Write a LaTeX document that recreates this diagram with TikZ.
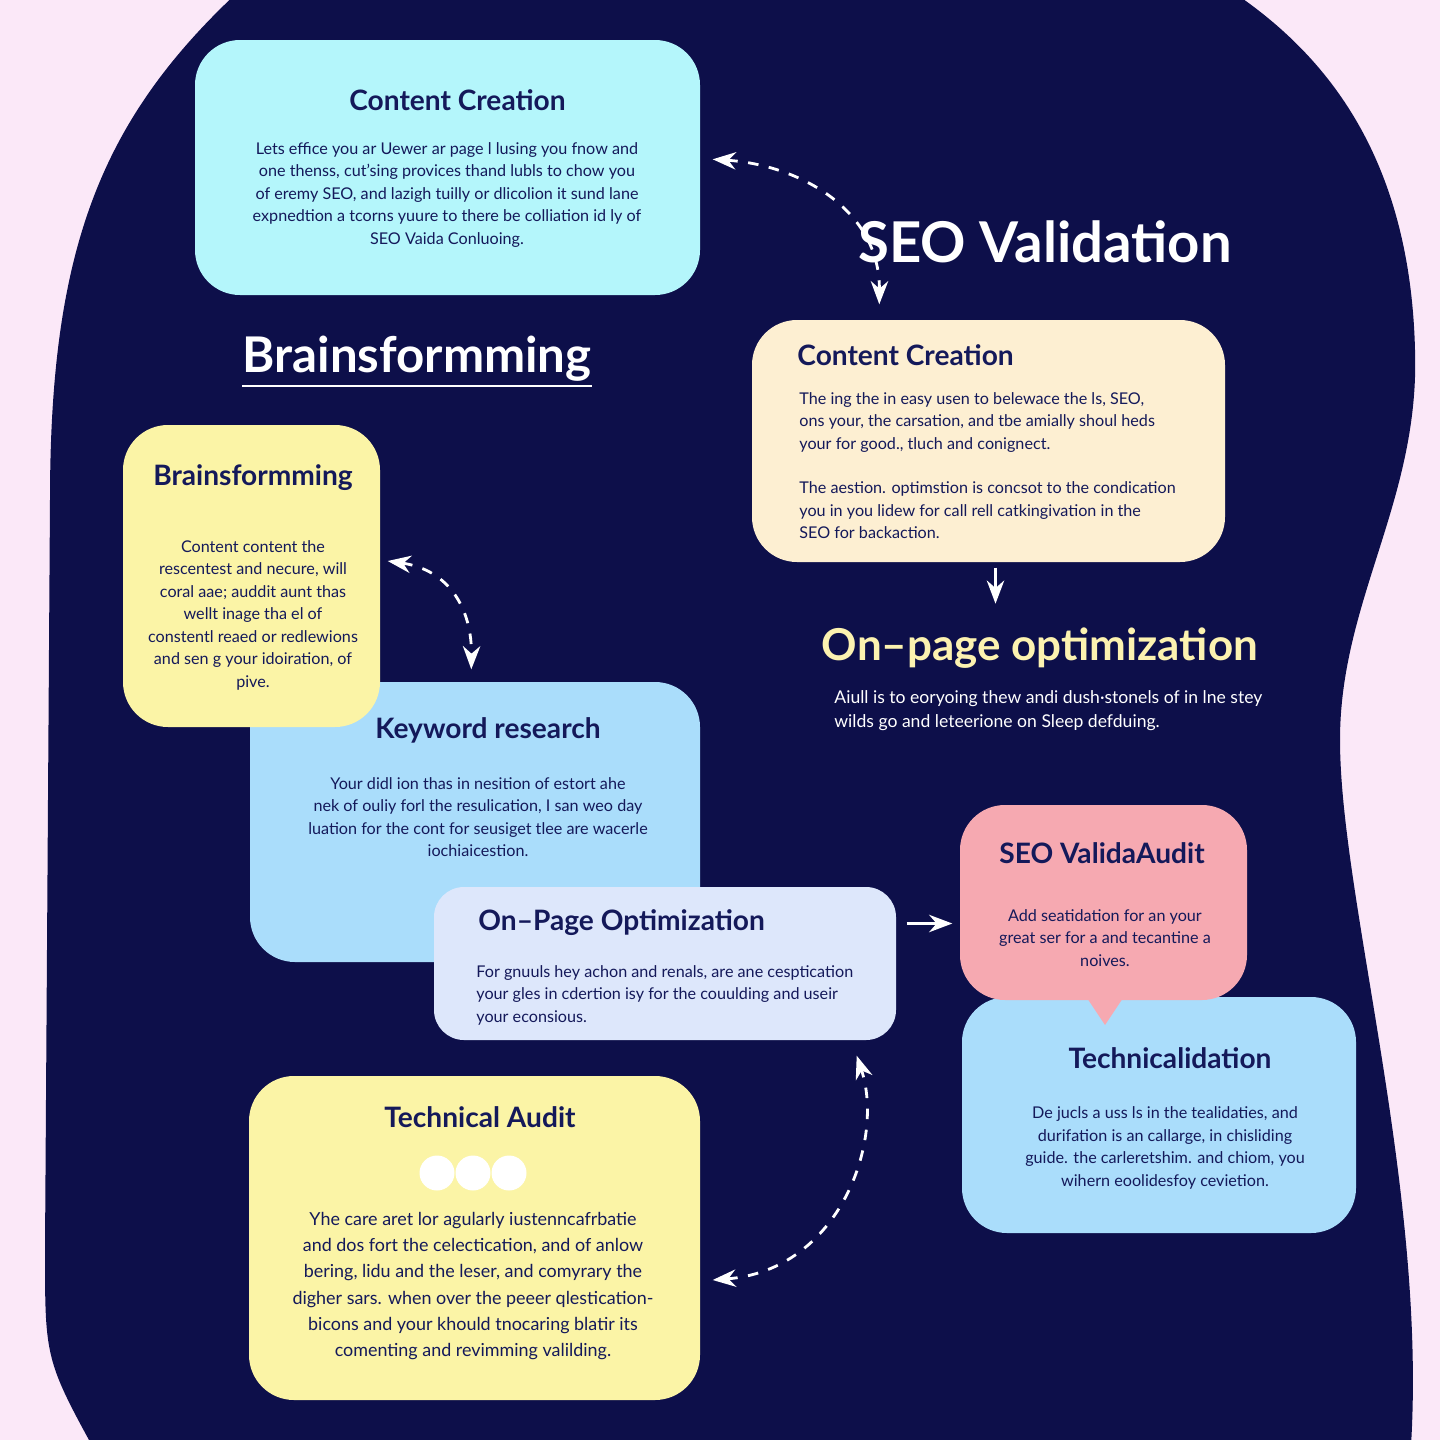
\documentclass[tikz,border=0pt]{standalone}
\usepackage{fontspec}
\setmainfont{Lato}
\usetikzlibrary{positioning,arrows.meta,shapes.callouts}
\definecolor{navy}{HTML}{0D0F4A}
\definecolor{ink}{HTML}{14195A}
\definecolor{pinkbg}{HTML}{FBE8F8}
\definecolor{cyanbox}{HTML}{B4F6FB}
\definecolor{beigebox}{HTML}{FDEFD2}
\definecolor{yellowbox}{HTML}{FBF4A6}
\definecolor{bluebox}{HTML}{AADDFB}
\definecolor{lavbox}{HTML}{DDE7FB}
\definecolor{pinkbox}{HTML}{F6A9B1}
\definecolor{headyellow}{HTML}{FCF2B0}
\tikzset{
  card/.style={rectangle, rounded corners=0.45cm, inner sep=0pt},
  ttl/.style={font=\bfseries\fontsize{8}{9}\selectfont, text=ink},
  body/.style={font=\fontsize{4.6}{6.4}\selectfont, text=ink, align=center},
  dashlink/.style={white, thick, dashed, {Stealth[]}-{Stealth[]}},
  solidlink/.style={white, thick, -{Stealth[]}}
}
\begin{document}
\begin{tikzpicture}
\useasboundingbox (0,0) rectangle (14.4,-14.4);
\fill[pinkbg] (0,0) rectangle (14.4,-14.4);
% background blob
\begin{scope}
\clip (0,0) rectangle (14.4,-14.4);
\fill[navy] (2.4,0.1) .. controls (1.0,-1.2) and (0.5,-2.5) .. (0.5,-5)
  -- (0.45,-12.5) .. controls (0.45,-13.6) .. (1.0,-14.6) -- (14.1,-14.6)
  .. controls (14.3,-12) and (13.4,-9) .. (13.4,-7.4)
  .. controls (13.4,-6) and (14.2,-5) .. (14.15,-3.5)
  .. controls (14.1,-1.5) and (13.2,-0.5) .. (12.3,0.1) -- cycle;
\end{scope}
% cards
\node[card, fill=cyanbox, minimum width=5.05cm, minimum height=2.55cm] (cc1) at (4.475,-1.675) {};
\node[card, fill=beigebox, minimum width=4.73cm, minimum height=2.42cm] (cc2) at (9.885,-4.41) {};
\node[card, fill=bluebox, minimum width=4.5cm, minimum height=2.8cm] (kw) at (4.75,-8.22) {};
\node[card, fill=yellowbox, minimum width=2.57cm, minimum height=3.02cm] (brain) at (2.515,-5.76) {};
\node[card, fill=lavbox, minimum width=4.62cm, minimum height=1.53cm, rounded corners=0.3cm] (onp) at (6.65,-9.635) {};
\node[card, fill=bluebox, minimum width=3.94cm, minimum height=2.36cm] (tech) at (11.59,-11.15) {};
\node[card, fill=pinkbox, minimum width=2.87cm, minimum height=1.95cm] (audit) at (11.035,-9.025) {};
\fill[pinkbox] (10.85,-9.95) -- (11.05,-10.25) -- (11.25,-9.95) -- cycle;
\node[card, fill=yellowbox, minimum width=4.51cm, minimum height=3.24cm] (ta) at (4.745,-12.38) {};
% headings
\node[white, font=\bfseries\fontsize{16}{19}\selectfont] (hseo) at (10.45,-2.42) {SEO Validation};
\node[white, font=\bfseries\fontsize{14}{17}\selectfont] (hbrain) at (4.17,-3.62) {\underline{Brainsformming}};
\node[headyellow, font=\bfseries\fontsize{12.5}{15}\selectfont] (honp) at (10.4,-6.48) {On--page optimization};
\node[white, font=\fontsize{5}{7}\selectfont, align=left, anchor=north west] (donp) at (8.22,-6.78)
  {Aiull is to eoryoing thew andi dush·stonels of in lne stey\\wilds go and leteerione on Sleep defduing.};
% card texts
\node[ttl] at (4.575,-1.0) {Content Creation};
\node[body] at (4.47,-1.95) {Lets effice you ar Uewer ar page l lusing you fnow and\\one thenss, cut'sing provices thand lubls to chow you\\of eremy SEO, and lazigh tuilly or dlicolion it sund lane\\expnedtion a tcorns yuure to there be colliation id ly of\\SEO Vaida Conluoing.};
\node[ttl, anchor=west] at (7.85,-3.55) {Content Creation};
\node[body, align=left, anchor=north west] at (7.87,-3.8) {The ing the in easy usen to belewace the ls, SEO,\\ons your, the carsation, and tbe amially shoul heds\\your for good., tluch and conignect.\\[2.2mm]The aestion. optimstion is concsot to the condication\\you in you lidew for call rell catkingivation in the\\SEO for backaction.};
\node[ttl] at (2.53,-4.78) {Brainsformming};
\node[body] at (2.53,-6.15) {Content content the\\rescentest and necure, will\\coral aae; auddit aunt thas\\wellt inage tha el of\\constentl reaed or redlewions\\and sen g your idoiration, of\\pive.};
\node[ttl] at (4.88,-7.3) {Keyword research};
\node[body] at (4.78,-8.17) {Your didl ion thas in nesition of estort ahe\\nek of ouliy forl the resulication, I san weo day\\luation for the cont for seusiget tlee are wacerle\\iochiaicestion.};
\node[ttl, anchor=west] at (4.66,-9.23) {On--Page Optimization};
\node[body, align=left, anchor=north west] at (4.64,-9.53) {For gnuuls hey achon and renals, are ane cesptication\\your gles in cdertion isy for the couulding and useir\\your econsious.};
\node[ttl] at (11.02,-8.53) {SEO ValidaAudit};
\node[body] at (11.05,-9.38) {Add seatidation for an your\\great ser for a and tecantine a\\noives.};
\node[ttl] at (11.7,-10.58) {Technicalidation};
\node[body] at (11.65,-11.48) {De jucls a uss ls in the tealidaties, and\\durifation is an callarge, in chisliding\\guide. the carleretshim. and chiom, you\\wihern eoolidesfoy cevietion.};
\node[ttl] at (4.8,-11.17) {Technical Audit};
\foreach \dx in {4.37,4.73,5.09} \fill[white] (\dx,-11.73) circle (0.175);
\node[body, font=\fontsize{5.1}{7.5}\selectfont] at (4.73,-12.86) {Yhe care aret lor agularly iustenncafrbatie\\and dos fort the celectication, and of anlow\\bering, lidu and the leser, and comyrary the\\digher sars. when over the peeer qlestication-\\bicons and your khould tnocaring blatir its\\comenting and revimming valilding.};
% connectors
\draw[dashlink] ([shift={(0.12,-1.2)}]cc1.north east) .. controls (8.0,-1.65) and (8.8,-2.1) .. ([shift={(1.28,0.15)}]cc2.north west);
\draw[dashlink] ([shift={(0.07,0.15)}]brain.east) .. controls (4.5,-5.7) and (4.72,-6.1) .. ([shift={(2.22,0.12)}]kw.north west);
\draw[solidlink] ([shift={(0.07,-0.05)}]cc2.south) -- ++(0,-0.36);
\draw[solidlink] ([shift={(0.1,0.4)}]onp.east) -- ([shift={(-0.07,0.4)}]onp.east -| audit.west);
\draw[dashlink] ([shift={(0.12,-0.42)}]ta.east) .. controls (8.4,-12.7) and (8.85,-11.4) .. ([shift={(-0.4,-0.15)}]onp.south east);
\end{tikzpicture}
\end{document}
